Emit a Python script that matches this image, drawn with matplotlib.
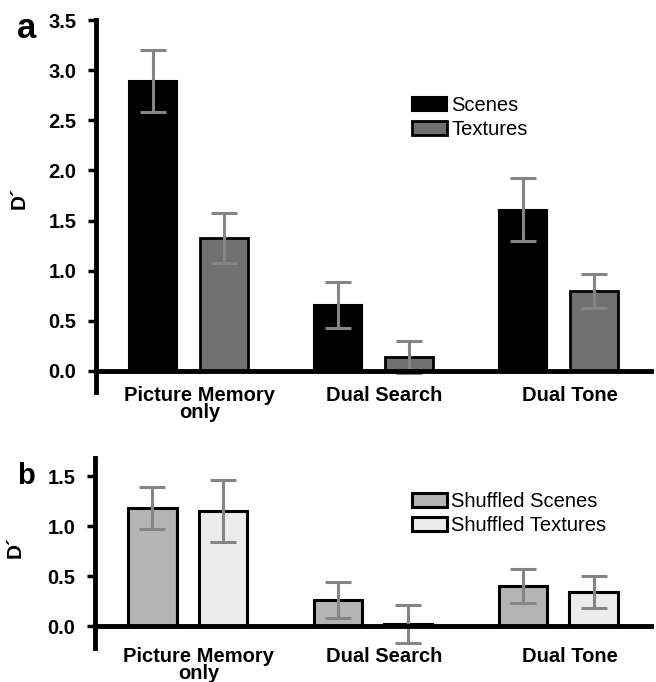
import numpy as np
import matplotlib
matplotlib.use("Agg")
import matplotlib.pyplot as plt

plt.rcParams['font.family'] = ['Liberation Sans', 'DejaVu Sans']

# Picture memory d' per condition
groups = ["Picture Memory\nonly", "Dual Search", "Dual Tone"]
scenes = [2.89, 0.66, 1.61]
scenes_err = [0.31, 0.23, 0.31]
textures = [1.33, 0.14, 0.80]
textures_err = [0.25, 0.16, 0.17]
shuf_scenes = [1.18, 0.26, 0.40]
shuf_scenes_err = [0.21, 0.18, 0.17]
shuf_textures = [1.15, 0.02, 0.34]
shuf_textures_err = [0.31, 0.19, 0.16]

x = np.arange(len(groups))
w = 0.26
off = 0.19
err_kw = dict(ecolor='#858585', elinewidth=2.2, capsize=9.7, capthick=2.2)

fig = plt.figure(figsize=(6.56, 6.82), dpi=100)
ax_a = fig.add_axes([96/656, 1-392/682, 555/656, 372/682])
ax_b = fig.add_axes([95/656, 1-648/682, 556/656, 190/682])


def style(ax, ylim, yticks, xpad):
    ax.set_xlim(-0.5, 2.5)
    ax.set_ylim(*ylim)
    ax.spines['top'].set_visible(False)
    ax.spines['right'].set_visible(False)
    ax.spines['bottom'].set_position(('data', 0))
    ax.spines['left'].set_linewidth(3.5)
    ax.spines['bottom'].set_linewidth(3.5)
    ax.set_yticks(yticks)
    ax.set_yticklabels(["%.1f" % t for t in yticks], fontweight='bold', fontsize=14.5)
    ax.tick_params(axis='y', length=6, width=2.5, pad=8, direction='out')
    ax.set_xticks(x + 0.06)
    ax.set_xticklabels(groups, fontweight='bold', fontsize=14.5, linespacing=0.85)
    ax.tick_params(axis='x', length=0, pad=xpad)
    ax.set_ylabel("D\u00b4", fontweight='bold', fontsize=15)
    ax.yaxis.set_label_coords(-0.122, 0.52)


# panel a
ax_a.bar(x - off, scenes, w, yerr=scenes_err, color='black', edgecolor='black',
         linewidth=1.5, label='Scenes', error_kw=err_kw)
ax_a.bar(x + off, textures, w, yerr=textures_err, color='#707070', edgecolor='black',
         linewidth=2, label='Textures', error_kw=err_kw)
style(ax_a, (-0.21, 3.5), np.arange(0, 3.6, 0.5), 11)
ax_a.legend(loc='upper left', bbox_to_anchor=(412/656, 1-96/682), bbox_transform=fig.transFigure,
            frameon=False, fontsize=14.5, handlelength=1.75, handleheight=0.75,
            handletextpad=0.2, labelspacing=0.25, borderpad=0, borderaxespad=0)

# panel b
ax_b.bar(x - off, shuf_scenes, w, yerr=shuf_scenes_err, color='#b4b4b4', edgecolor='black',
         linewidth=2.2, label='Shuffled Scenes', error_kw=err_kw)
ax_b.bar(x + off, shuf_textures, w, yerr=shuf_textures_err, color='#ececec', edgecolor='black',
         linewidth=2.2, label='Shuffled Textures', error_kw=err_kw)
style(ax_b, (-0.22, 1.68), np.arange(0, 1.6, 0.5), 15)
ax_b.yaxis.set_label_coords(-0.126, 0.53)
ax_b.legend(loc='upper left', bbox_to_anchor=(412/656, 1-492/682), bbox_transform=fig.transFigure,
            frameon=False, fontsize=14.5, handlelength=1.75, handleheight=0.75,
            handletextpad=0.2, labelspacing=0.25, borderpad=0, borderaxespad=0)

fig.text(17/656, 1-12/682, 'a', fontsize=25, fontweight='bold', va='top', ha='left')
fig.text(17/656, 1-462/682, 'b', fontsize=21, fontweight='bold', va='top', ha='left')

fig.savefig('out.png', dpi=100)
